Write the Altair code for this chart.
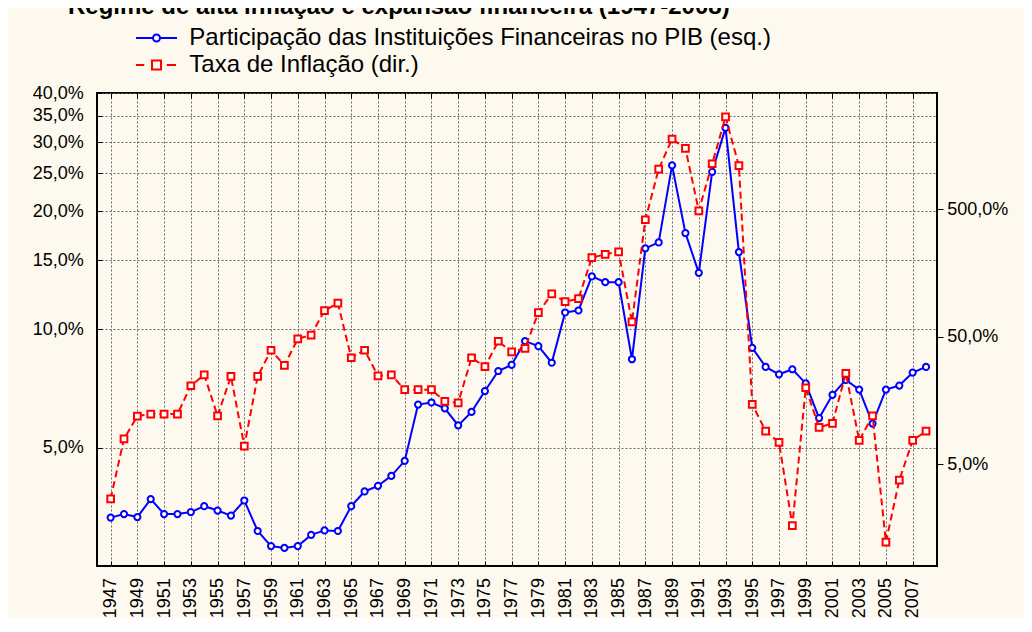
import altair as alt
import pandas as pd

# ---------------- data ----------------
years = list(range(1947, 2009))

# Participação das Instituições Financeiras no PIB (%), left axis
fin_share = [3.32, 3.39, 3.33, 3.70, 3.39, 3.39, 3.43, 3.55, 3.46, 3.36,
             3.67, 3.07, 2.81, 2.78, 2.81, 3.00, 3.08, 3.07, 3.55, 3.87,
             4.00, 4.24, 4.63, 6.44, 6.52, 6.30, 5.70, 6.17, 6.97, 7.84,
             8.13, 9.34, 9.07, 8.23, 11.05, 11.18, 13.65, 13.20, 13.20, 8.40,
             16.09, 16.66, 26.17, 17.60, 13.94, 25.20, 32.60, 15.74, 8.98, 8.03,
             7.69, 7.92, 7.29, 5.95, 6.82, 7.44, 7.03, 5.76, 7.03, 7.20,
             7.77, 8.03]

# Taxa de Inflação (%), right axis
inflation = [2.69, 7.94, 11.97, 12.41, 12.41, 12.41, 20.7, 25.2, 12.03, 24.5,
             6.96, 24.5, 39.3, 29.9, 48.2, 51.7, 80.3, 91.8, 34.3, 39.3,
             24.7, 25.2, 19.3, 19.3, 19.3, 15.6, 15.2, 34.3, 29.2, 46.2,
             38.1, 40.7, 77.4, 108.6, 94.5, 99.7, 209.0, 222.0, 232.0, 65.5,
             414.0, 1034.0, 1778.0, 1500.0, 486.0, 1138.0, 2647.0, 1098.0, 14.8, 9.13,
             7.44, 1.66, 19.97, 9.76, 10.5, 25.9, 7.72, 12.0, 1.23, 3.77,
             7.72, 9.13]

left_ticks = [5, 10, 15, 20, 25, 30, 35, 40]
right_ticks = [5, 50, 500]
year_ticks = list(range(1947, 2009, 2))

series_names = ["Participação das Instituições Financeiras no PIB (esq.)",
                "Taxa de Inflação (dir.)"]
title_text = "Regime de alta inflação e expansão financeira (1947-2008)"

df = pd.DataFrame({"ano": years, "fin": fin_share, "inf": inflation})

# ---------------- styling ----------------
FONT = "Liberation Sans"
BLUE = "#0000FF"
RED = "#FF0000"
GRID = "#666666"
pct_expr = "replace(format(datum.value, '.1f'), '.', ',') + '%'"

x_scale = alt.Scale(domain=[1945.98, 2008.82], nice=False, zero=False)

x_bottom = alt.X(
    "ano:Q", scale=x_scale,
    axis=alt.Axis(orient="bottom", values=year_ticks, format="d", labelAngle=270,
                  labelFontSize=18, labelFont=FONT, labelColor="black",
                  labelPadding=11.6, labelFlush=False, labelOverlap=False,
                  offset=-5, tickSize=5, tickColor="black", tickWidth=1,
                  domain=False, grid=True, gridColor=GRID, gridDash=[2, 2],
                  gridWidth=1, title=None))

x_top = alt.X(
    "ano:Q", scale=x_scale,
    axis=alt.Axis(orient="top", values=year_ticks, labels=False,
                  offset=-5, tickSize=5, tickColor="black", tickWidth=1,
                  domain=False, grid=False, title=None))

y_left = alt.Y(
    "fin:Q", scale=alt.Scale(type="log", domain=[2.5, 40], nice=False),
    axis=alt.Axis(orient="left", values=left_ticks, labelExpr=pct_expr,
                  labelFontSize=18, labelFont=FONT, labelColor="black",
                  labelPadding=13.7, labelOverlap=False, labelFlush=False,
                  offset=-5, tickSize=5, tickColor="black", tickWidth=1,
                  domain=False, grid=True, gridColor=GRID, gridDash=[2, 2],
                  gridWidth=1, title=None))

y_right = alt.Y(
    "inf:Q", scale=alt.Scale(type="log", domain=[0.8, 4080], nice=False),
    axis=alt.Axis(orient="right", values=right_ticks, labelExpr=pct_expr,
                  labelFontSize=18, labelFont=FONT, labelColor="black",
                  labelPadding=3.7, labelOverlap=False, labelFlush=False,
                  tickSize=6, tickColor="black", tickWidth=1,
                  domain=False, grid=False, title=None))

base = alt.Chart(df)

blue_line = base.mark_line(color=BLUE, strokeWidth=2).encode(x=x_bottom, y=y_left)
blue_pts = base.mark_point(shape="circle", filled=True, fill="white", stroke=BLUE,
                           strokeWidth=2, size=38, opacity=1).encode(x=x_bottom, y=y_left)
left = alt.layer(blue_line, blue_pts)

red_line = base.mark_line(color=RED, strokeWidth=2, strokeDash=[7, 4]).encode(x=x_top, y=y_right)
red_pts = base.mark_point(shape="square", filled=True, fill="white", stroke=RED,
                          strokeWidth=2, size=45, opacity=1).encode(x=x_top, y=y_right)
right = alt.layer(red_line, red_pts)

# legend (line + marker symbols drawn as custom symbol paths)
sym_blue = ("M-2.05,0H-0.35M0.35,0H2.05"
            "M-0.35,0A0.35,0.35,0,1,1,0.35,0A0.35,0.35,0,1,1,-0.35,0")
sym_red = "M-2.05,0H-1.22M1.02,0H1.95M-0.45,-0.45H0.45V0.45H-0.45Z"

leg = alt.Legend(orient="none", legendX=47.5, legendY=-67, title=None,
                 labelFontSize=24, labelFont=FONT, labelColor="black",
                 labelLimit=1000, labelOffset=20.8, symbolSize=400,
                 symbolStrokeWidth=2, rowPadding=3, padding=0, direction="vertical")

legend_df = pd.DataFrame({"serie": series_names})
legend_layer = alt.Chart(legend_df).mark_point(filled=False, opacity=1, strokeWidth=2).encode(
    color=alt.Color("serie:N", scale=alt.Scale(domain=series_names, range=[BLUE, RED]), legend=leg),
    shape=alt.Shape("serie:N", scale=alt.Scale(domain=series_names, range=[sym_blue, sym_red]), legend=leg),
).transform_filter("false")

title_layer = alt.Chart(pd.DataFrame({"t": [title_text]})).mark_text(
    align="left", baseline="alphabetic", fontSize=24, fontWeight="bold", font=FONT, color="black"
).encode(x=alt.value(-29), y=alt.value(-79), text="t:N")

chart = alt.layer(left, right, legend_layer, title_layer).resolve_scale(
    y="independent"
).resolve_axis(
    x="independent"
).properties(
    width=840, height=473, background="#FDF9EF",
    padding={"left": 89, "top": 85, "right": 87, "bottom": 52},
    autosize=alt.AutoSizeParams(type="none"),
).configure_view(stroke="black", strokeWidth=2, fill="white")

chart.save("out.html", embed_options={"renderer": "svg", "actions": False})
